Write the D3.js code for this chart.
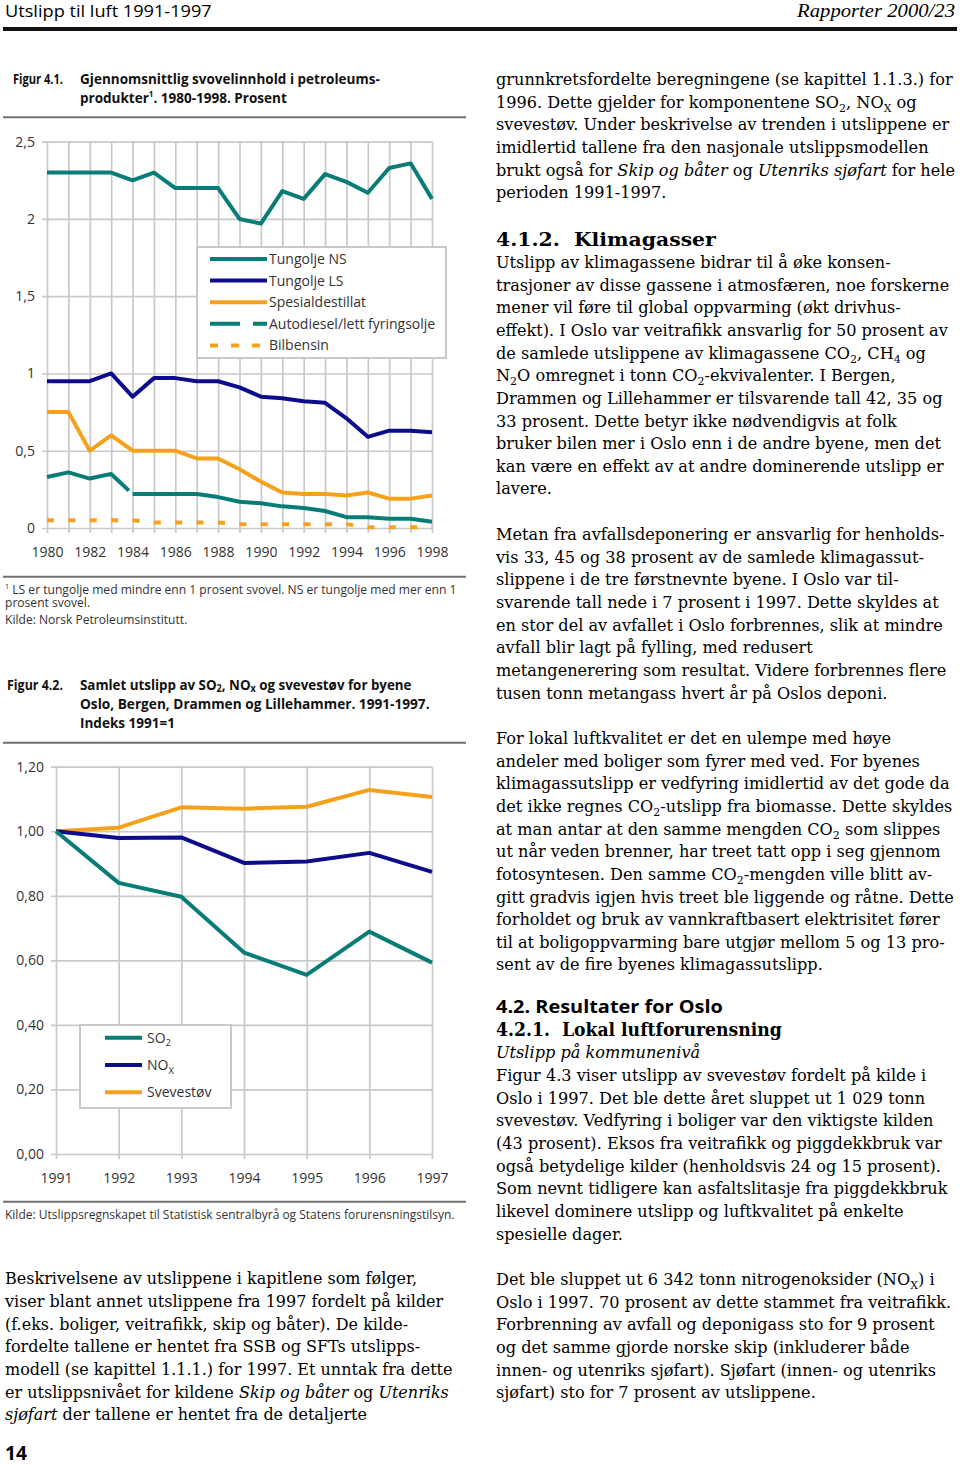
<!DOCTYPE html>
<html><head><meta charset="utf-8">
<script src="https://cdn.jsdelivr.net/npm/d3@7"></script>
<style>html,body{margin:0;padding:0;background:#fff}svg{display:block}</style>
</head><body>
<svg id="page" width="960" height="1465"></svg>
<script>
// ---------- DATA: Figur 4.1 ----------
const years1 = [1980,1981,1982,1983,1984,1985,1986,1987,1988,1989,1990,1991,1992,1993,1994,1995,1996,1997,1998];
const xTickLabels1 = [1980,1982,1984,1986,1988,1990,1992,1994,1996,1998];
const yTicks1 = [0,0.5,1,1.5,2,2.5];
const seriesNames1 = ["Tungolje NS","Tungolje LS","Spesialdestillat","Autodiesel/lett fyringsolje","Bilbensin"];
const tungoljeNS = [2.30,2.30,2.30,2.30,2.25,2.30,2.20,2.20,2.20,2.00,1.97,2.18,2.13,2.29,2.24,2.17,2.33,2.36,2.13];
const tungoljeLS = [0.95,0.95,0.95,1.00,0.85,0.97,0.97,0.95,0.95,0.91,0.85,0.84,0.82,0.81,0.71,0.59,0.63,0.63,0.62];
const spesialdestillat = [0.75,0.75,0.50,0.60,0.50,0.50,0.50,0.45,0.45,0.38,0.30,0.23,0.22,0.22,0.21,0.23,0.19,0.19,0.21];
const autodiesel = [0.33,0.36,0.32,0.35,0.22,0.22,0.22,0.22,0.20,0.17,0.16,0.14,0.13,0.11,0.07,0.07,0.06,0.06,0.04];
const bilbensin = [0.05,0.05,0.05,0.05,0.05,0.035,0.035,0.035,0.035,0.025,0.025,0.025,0.025,0.025,0.025,0.005,0.005,0.005,0.005];

// ---------- DATA: Figur 4.2 ----------
const years2 = [1991,1992,1993,1994,1995,1996,1997];
const yTicks2 = [0,0.2,0.4,0.6,0.8,1.0,1.2];
const seriesNames2 = ["SO_{2}","NO_{X}","Svevestøv"];
const so2 = [1.00,0.840,0.797,0.624,0.555,0.689,0.593];
const nox = [1.00,0.979,0.981,0.902,0.906,0.933,0.874];
const svevestov = [1.00,1.011,1.074,1.070,1.076,1.128,1.106];

const TEAL="#0a7c77", NAVY="#0c0c8c", ORANGE="#f6a11c", GRID="#c9c9c9";
const SANS="'Open Sans','Noto Sans',sans-serif", SERIF="'DejaVu Serif',serif";

const svg = d3.select("#page");

function rich(t, str, size, subOff){
  const so = subOff==null ? 0.25 : subOff;
  const parts = str.split(/(_\{[^}]*\}|\^\{[^}]*\}|\*[^*]+\*)/).filter(s=>s.length);
  let shift = 0;
  parts.forEach(p=>{
    let txt=p, off=0, fs=null, it=false;
    if(p.startsWith("_{")){txt=p.slice(2,-1);fs=size*0.68;off=size*so;}
    else if(p.startsWith("^{")){txt=p.slice(2,-1);fs=size*0.6;off=-size*0.42;}
    else if(p.startsWith("*")){txt=p.slice(1,-1);it=true;}
    const ts=t.append("tspan").text(txt);
    if(off-shift!==0) ts.attr("dy",off-shift);
    shift=off;
    if(fs) ts.attr("font-size",fs);
    if(it) ts.attr("font-style","italic");
  });
}
function block(x,y0,lh,lines,o){
  const g=svg.append("g");
  const ts=lines.map((ln,i)=>{
    const t=g.append("text").attr("x",0).attr("y",y0+i*lh)
      .attr("font-family",o.font).attr("font-size",o.size)
      .attr("font-weight",o.weight||400).attr("font-style",o.style||"normal")
      .attr("fill",o.fill||"#000").attr("text-anchor",o.anchor||"start")
      .style("white-space","pre");
    rich(t,ln,o.size,o.subOff);
    return t;
  });
  let sx=o.sx||1;
  if(o.fit){sx=o.fit.w/ts[o.fit.i].node().getComputedTextLength();}
  g.attr("transform",`translate(${x},0) scale(${sx},1)`);
  return sx;
}
function rule(x1,x2,y,w,c){svg.append("line").attr("x1",x1).attr("x2",x2).attr("y1",y).attr("y2",y).attr("stroke",c).attr("stroke-width",w);}

// ---------- HEADER ----------
block(5,17,0,["Utslipp til luft 1991-1997"],{font:SANS,size:17,fill:"#000",fit:{i:0,w:207}});
block(955,17,0,["Rapporter 2000/23"],{font:"'Liberation Serif',serif",size:18,style:"italic",anchor:"end",fit:{i:0,w:158}});
svg.append("rect").attr("x",3).attr("y",27).attr("width",954).attr("height",4).attr("fill","#111");

// ---------- FIGUR 4.1 TITLE ----------
const TT={font:SANS,size:15,weight:700,fill:"#111",subOff:0.15};
block(13,84,0,["Figur 4.1."],Object.assign({},TT,{fit:{i:0,w:50}}));
block(80,84,0,["Gjennomsnittlig svovelinnhold i petroleums-"],Object.assign({},TT,{fit:{i:0,w:300}}));
block(80,103,0,["produkter^{1}. 1980-1998. Prosent"],Object.assign({},TT,{fit:{i:0,w:207}}));
rule(3,466,117.3,2,"#707070");

// ---------- CHART 1 ----------
const x1 = d3.scaleLinear().domain([1980,1998]).range([47,432]);
const y1 = d3.scaleLinear().domain([0,2.5]).range([528,141.7]);
const fmt = d=>String(d).replace(".",",");
const fmt2 = d=>d3.format(".2f")(d).replace(".",",");
function styleAxis(g){
  g.select(".domain").remove();
  g.selectAll(".tick line").attr("stroke",GRID).attr("stroke-width",1.7);
  g.selectAll(".tick text").attr("font-family",SANS).attr("font-size",14).attr("fill","#333");
}
const c1 = svg.append("g");
c1.append("g").attr("transform","translate(42,0)")
  .call(d3.axisLeft(y1).tickValues(yTicks1).tickSize(-390).tickPadding(7).tickFormat(fmt)).call(styleAxis);
c1.append("g").attr("transform",`translate(0,${y1(2.5)})`)
  .call(d3.axisBottom(x1).tickValues(years1).tickSize(y1(0)+5-y1(2.5)).tickFormat("")).call(styleAxis);
c1.append("g").attr("transform",`translate(0,${y1(0)})`)
  .call(d3.axisBottom(x1).tickValues(xTickLabels1).tickSize(0).tickPadding(19).tickFormat(d3.format("d"))).call(styleAxis);

// legend 1
const leg1 = [
  {name:seriesNames1[0],color:TEAL,dash:null},
  {name:seriesNames1[1],color:NAVY,dash:null},
  {name:seriesNames1[2],color:ORANGE,dash:null},
  {name:seriesNames1[3],color:TEAL,dash:"30 13 14"},
  {name:seriesNames1[4],color:ORANGE,dash:"8 13"}
];
c1.append("rect").attr("x",197).attr("y",247).attr("width",249).attr("height",111)
  .attr("fill","#fff").attr("stroke",GRID).attr("stroke-width",2);
leg1.forEach((d,i)=>{
  const yy=259+i*21.6;
  c1.append("line").attr("x1",210).attr("x2",267).attr("y1",yy).attr("y2",yy)
    .attr("stroke",d.color).attr("stroke-width",4).attr("stroke-dasharray",d.dash);
  c1.append("text").attr("x",269).attr("y",yy).attr("dy","0.35em").attr("font-family",SANS)
    .attr("font-size",14).attr("fill","#333").text(d.name);
});

const line1 = d3.line().x((d,i)=>x1(years1[i])).y(d=>y1(d));
function drawLine(g,gen,data,color,dash){
  return g.append("path").attr("d",gen(data)).attr("fill","none").attr("stroke",color)
    .attr("stroke-width",4).attr("stroke-linejoin","round").attr("stroke-dasharray",dash||null);
}
drawLine(c1,line1,tungoljeNS,TEAL);
drawLine(c1,line1,tungoljeLS,NAVY);
drawLine(c1,line1,spesialdestillat,ORANGE);
const ad = drawLine(c1,line1,autodiesel,TEAL);
{
  const tot = ad.node().getTotalLength();
  const tmp = svg.append("path").attr("d",line1(autodiesel.slice(0,5)));
  const L = tmp.node().getTotalLength(); tmp.remove();
  ad.attr("stroke-dasharray",`${L-5} 5 ${tot}`);
}
drawLine(c1,line1,bilbensin,ORANGE,`7 ${(x1(1981)-x1(1980))-7}`);

// footnote
rule(3,466,576.7,2,"#707070");
const FN={font:SANS,size:12,fill:"#333"};
const fsx = block(5,594,0,["^{1} LS er tungolje med mindre enn 1 prosent svovel. NS er tungolje med mer enn 1"],Object.assign({},FN,{fit:{i:0,w:452}}));
block(5,607,0,["prosent svovel."],Object.assign({},FN,{sx:fsx}));
block(5,624.5,0,["Kilde: Norsk Petroleumsinstitutt."],Object.assign({},FN,{sx:fsx}));

// ---------- FIGUR 4.2 TITLE ----------
block(7,690,0,["Figur 4.2."],Object.assign({},TT,{fit:{i:0,w:56}}));
block(80,690,0,["Samlet utslipp av SO_{2}, NO_{x} og svevestøv for byene"],Object.assign({},TT,{fit:{i:0,w:332}}));
block(80,709,0,["Oslo, Bergen, Drammen og Lillehammer. 1991-1997."],Object.assign({},TT,{fit:{i:0,w:350}}));
block(80,728,0,["Indeks 1991=1"],Object.assign({},TT,{fit:{i:0,w:95}}));
rule(3,466,742.7,2,"#707070");

// ---------- CHART 2 ----------
const x2 = d3.scaleLinear().domain([1991,1997]).range([56,432]);
const y2 = d3.scaleLinear().domain([0,1.2]).range([1154,766.7]);
const c2 = svg.append("g");
c2.append("g").attr("transform","translate(51,0)")
  .call(d3.axisLeft(y2).tickValues(yTicks2).tickSize(-381).tickPadding(7).tickFormat(fmt2)).call(styleAxis);
c2.append("g").attr("transform",`translate(0,${y2(1.2)})`)
  .call(d3.axisBottom(x2).tickValues(years2).tickSize(y2(0)+5-y2(1.2)).tickFormat("")).call(styleAxis);
c2.append("g").attr("transform",`translate(0,${y2(0)})`)
  .call(d3.axisBottom(x2).tickValues(years2).tickSize(0).tickPadding(19).tickFormat(d3.format("d"))).call(styleAxis);

c2.append("rect").attr("x",80).attr("y",1025).attr("width",151).attr("height",83)
  .attr("fill","#fff").attr("stroke",GRID).attr("stroke-width",2);
const leg2=[{name:seriesNames2[0],color:TEAL},{name:seriesNames2[1],color:NAVY},{name:seriesNames2[2],color:ORANGE}];
leg2.forEach((d,i)=>{
  const yy=1037.7+i*27.3;
  c2.append("line").attr("x1",105).attr("x2",142).attr("y1",yy).attr("y2",yy).attr("stroke",d.color).attr("stroke-width",4);
  const t=c2.append("text").attr("x",147).attr("y",yy+5).attr("font-family",SANS).attr("font-size",14).attr("fill","#333");
  rich(t,d.name,14);
});
const line2 = d3.line().x((d,i)=>x2(years2[i])).y(d=>y2(d));
drawLine(c2,line2,svevestov,ORANGE);
drawLine(c2,line2,nox,NAVY);
drawLine(c2,line2,so2,TEAL);

rule(3,466,1201.7,2,"#707070");
block(5,1219.5,0,["Kilde: Utslippsregnskapet til Statistisk sentralbyrå og Statens forurensningstilsyn."],Object.assign({},FN,{fit:{i:0,w:450}}));

// ---------- BODY TEXT ----------
const LH=22.65;
const body={font:SERIF,size:17,fill:"#000"};
const sx = block(496,85,LH,[
 "grunnkretsfordelte beregningene (se kapittel 1.1.3.) for",
 "1996. Dette gjelder for komponentene SO_{2}, NO_{X} og",
 "svevestøv. Under beskrivelse av trenden i utslippene er",
 "imidlertid tallene fra den nasjonale utslippsmodellen",
 "brukt også for *Skip og båter* og *Utenriks sjøfart* for hele",
 "perioden 1991-1997."
],Object.assign({},body,{fit:{i:0,w:457}}));
block(496,246,0,["4.1.2.\u00a0 Klimagasser"],{font:SERIF,size:18.5,weight:700,fit:{i:0,w:220}});
block(496,268,LH,[
 "Utslipp av klimagassene bidrar til å øke konsen-",
 "trasjoner av disse gassene i atmosfæren, noe forskerne",
 "mener vil føre til global oppvarming (økt drivhus-",
 "effekt). I Oslo var veitrafikk ansvarlig for 50 prosent av",
 "de samlede utslippene av klimagassene CO_{2}, CH_{4} og",
 "N_{2}O omregnet i tonn CO_{2}-ekvivalenter. I Bergen,",
 "Drammen og Lillehammer er tilsvarende tall 42, 35 og",
 "33 prosent. Dette betyr ikke nødvendigvis at folk",
 "bruker bilen mer i Oslo enn i de andre byene, men det",
 "kan være en effekt av at andre dominerende utslipp er",
 "lavere."
],Object.assign({},body,{sx}));
block(496,540,LH,[
 "Metan fra avfallsdeponering er ansvarlig for henholds-",
 "vis 33, 45 og 38 prosent av de samlede klimagassut-",
 "slippene i de tre førstnevnte byene. I Oslo var til-",
 "svarende tall nede i 7 prosent i 1997. Dette skyldes at",
 "en stor del av avfallet i Oslo forbrennes, slik at mindre",
 "avfall blir lagt på fylling, med redusert",
 "metangenerering som resultat. Videre forbrennes flere",
 "tusen tonn metangass hvert år på Oslos deponi."
],Object.assign({},body,{sx}));
block(496,744,LH,[
 "For lokal luftkvalitet er det en ulempe med høye",
 "andeler med boliger som fyrer med ved. For byenes",
 "klimagassutslipp er vedfyring imidlertid av det gode da",
 "det ikke regnes CO_{2}-utslipp fra biomasse. Dette skyldes",
 "at man antar at den samme mengden CO_{2} som slippes",
 "ut når veden brenner, har treet tatt opp i seg gjennom",
 "fotosyntesen. Den samme CO_{2}-mengden ville blitt av-",
 "gitt gradvis igjen hvis treet ble liggende og råtne. Dette",
 "forholdet og bruk av vannkraftbasert elektrisitet fører",
 "til at boligoppvarming bare utgjør mellom 5 og 13 pro-",
 "sent av de fire byenes klimagassutslipp."
],Object.assign({},body,{sx}));
block(496,1013,0,["4.2. Resultater for Oslo"],{font:SANS,size:18,weight:700,fit:{i:0,w:227}});
block(496,1036,0,["4.2.1.\u00a0 Lokal luftforurensning"],{font:SERIF,size:18.5,weight:700,fit:{i:0,w:286}});
block(496,1058,0,["*Utslipp på kommunenivå*"],Object.assign({},body,{sx}));
block(496,1081,LH,[
 "Figur 4.3 viser utslipp av svevestøv fordelt på kilde i",
 "Oslo i 1997. Det ble dette året sluppet ut 1 029 tonn",
 "svevestøv. Vedfyring i boliger var den viktigste kilden",
 "(43 prosent). Eksos fra veitrafikk og piggdekkbruk var",
 "også betydelige kilder (henholdsvis 24 og 15 prosent).",
 "Som nevnt tidligere kan asfaltslitasje fra piggdekkbruk",
 "likevel dominere utslipp og luftkvalitet på enkelte",
 "spesielle dager."
],Object.assign({},body,{sx}));
block(496,1285,LH,[
 "Det ble sluppet ut 6 342 tonn nitrogenoksider (NO_{X}) i",
 "Oslo i 1997. 70 prosent av dette stammet fra veitrafikk.",
 "Forbrenning av avfall og deponigass sto for 9 prosent",
 "og det samme gjorde norske skip (inkluderer både",
 "innen- og utenriks sjøfart). Sjøfart (innen- og utenriks",
 "sjøfart) sto for 7 prosent av utslippene."
],Object.assign({},body,{sx}));
block(5,1284.5,LH,[
 "Beskrivelsene av utslippene i kapitlene som følger,",
 "viser blant annet utslippene fra 1997 fordelt på kilder",
 "(f.eks. boliger, veitrafikk, skip og båter). De kilde-",
 "fordelte tallene er hentet fra SSB og SFTs utslipps-",
 "modell (se kapittel 1.1.1.) for 1997. Et unntak fra dette",
 "er utslippsnivået for kildene *Skip og båter* og *Utenriks*",
 "*sjøfart* der tallene er hentet fra de detaljerte"
],Object.assign({},body,{fit:{i:4,w:448}}));
block(5,1460,0,["14"],{font:SANS,size:19,weight:700,fit:{i:0,w:22}});
</script>
</body></html>
